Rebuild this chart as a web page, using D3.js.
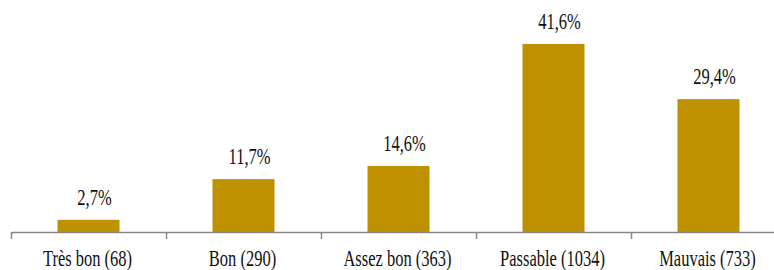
<!DOCTYPE html>
<html lang="fr">
<head>
<meta charset="UTF-8">
<script src="https://d3js.org/d3.v7.min.js"></script>
<style>
  body { margin: 0; background: #fff; }
  svg { display: block; }
  .lbl { font-family: "Liberation Serif", "Times New Roman", serif; font-size: 16.5px; fill: #111; text-anchor: middle; }
  .axis path, .axis line { stroke: #868686; stroke-width: 1.5px; }
</style>
</head>
<body>
<svg id="chart" width="774" height="270"></svg>
<script>
const categories = ["Très bon (68)", "Bon (290)", "Assez bon (363)", "Passable (1034)", "Mauvais (733)"];
const values = [2.7, 11.7, 14.6, 41.6, 29.4];
const valueLabels = ["2,7%", "11,7%", "14,6%", "41,6%", "29,4%"];

const svg = d3.select("#chart");
const left = 11, right = 786, base = 232;
const stretch = 1.38;

const x = d3.scaleBand().domain(categories).range([left, right])
  .paddingInner(0.6).paddingOuter(0.3);
const edges = d3.scaleLinear().domain([0, categories.length]).range([left, right]);
const y = d3.scaleLinear().domain([0, 45]).range([base, base - 45 * 4.52]);

svg.selectAll(".bar").data(values).join("rect")
  .attr("class", "bar")
  .attr("x", (d, i) => x(categories[i]))
  .attr("y", d => y(d))
  .attr("width", x.bandwidth())
  .attr("height", d => y(0) - y(d))
  .attr("fill", "#BF9000");

svg.append("g").attr("class", "axis")
  .attr("transform", `translate(0,${base})`)
  .call(d3.axisBottom(edges).tickValues(d3.range(categories.length + 1))
    .tickFormat("").tickSize(7).tickSizeOuter(0));

svg.selectAll(".val").data(values).join("text")
  .attr("class", "lbl")
  .attr("transform", (d, i) => `translate(${x(categories[i]) + x.bandwidth() / 2 + 6},${y(d) - 15}) scale(1,${stretch})`)
  .text((d, i) => valueLabels[i]);

svg.selectAll(".cat").data(categories).join("text")
  .attr("class", "lbl")
  .attr("transform", d => `translate(${x(d) + x.bandwidth() / 2 - 1},266) scale(1,${stretch})`)
  .text(d => d);
</script>
</body>
</html>
